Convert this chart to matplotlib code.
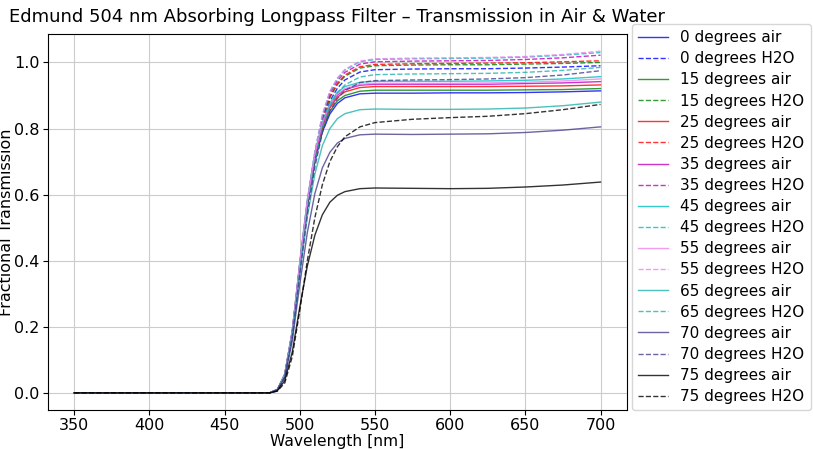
import matplotlib
matplotlib.use("Agg")
import matplotlib.pyplot as plt

# wavelength sample points [nm]
wavelength = [350, 480, 485, 490, 495, 500, 505, 510, 515, 520, 525, 530,
              540, 550, 575, 600, 625, 650, 675, 700]

angles = [0, 15, 25, 35, 45, 55, 65, 70, 75]
colors = ['blue', 'green', 'red', 'm', 'c', 'violet', 'lightseagreen',
          'darkslateblue', 'black']

# fractional transmission in air
air_0 = [0, 0, 0.009, 0.054, 0.182, 0.381, 0.563, 0.699, 0.790, 0.844, 0.876, 0.893,
         0.905, 0.907, 0.907, 0.908, 0.908, 0.909, 0.911, 0.914]
air_15 = [0, 0, 0.009, 0.055, 0.183, 0.385, 0.568, 0.705, 0.797, 0.852, 0.884, 0.900,
          0.913, 0.916, 0.916, 0.916, 0.916, 0.917, 0.918, 0.921]
air_25 = [0, 0, 0.009, 0.056, 0.185, 0.389, 0.575, 0.714, 0.806, 0.862, 0.895, 0.911,
          0.924, 0.927, 0.927, 0.927, 0.927, 0.928, 0.929, 0.932]
air_35 = [0, 0, 0.009, 0.056, 0.187, 0.392, 0.579, 0.719, 0.813, 0.869, 0.901, 0.918,
          0.931, 0.934, 0.934, 0.934, 0.934, 0.936, 0.938, 0.942]
air_45 = [0, 0, 0.009, 0.057, 0.189, 0.396, 0.585, 0.726, 0.820, 0.877, 0.910, 0.927,
          0.940, 0.943, 0.943, 0.943, 0.944, 0.946, 0.950, 0.957]
air_55 = [0, 0, 0.009, 0.056, 0.187, 0.394, 0.581, 0.721, 0.815, 0.871, 0.904, 0.921,
          0.934, 0.937, 0.937, 0.937, 0.938, 0.940, 0.944, 0.950]
air_65 = [0, 0, 0.009, 0.052, 0.172, 0.361, 0.533, 0.662, 0.748, 0.800, 0.830, 0.845,
          0.857, 0.859, 0.858, 0.858, 0.859, 0.862, 0.869, 0.880]
air_70 = [0, 0, 0.008, 0.047, 0.157, 0.329, 0.485, 0.603, 0.681, 0.728, 0.756, 0.770,
          0.781, 0.783, 0.782, 0.783, 0.784, 0.788, 0.795, 0.805]
air_75 = [0, 0, 0.006, 0.037, 0.124, 0.260, 0.384, 0.477, 0.539, 0.577, 0.598, 0.609,
          0.618, 0.620, 0.619, 0.618, 0.619, 0.623, 0.629, 0.638]

# fractional transmission in water
h2o_0 = [0, 0, 0.010, 0.049, 0.177, 0.373, 0.559, 0.706, 0.814, 0.883, 0.922, 0.947,
         0.971, 0.978, 0.980, 0.981, 0.981, 0.983, 0.986, 0.990]
h2o_15 = [0, 0, 0.010, 0.050, 0.179, 0.377, 0.566, 0.715, 0.824, 0.894, 0.933, 0.958,
          0.983, 0.990, 0.992, 0.993, 0.993, 0.995, 0.997, 1.000]
h2o_25 = [0, 0, 0.010, 0.050, 0.179, 0.379, 0.568, 0.718, 0.828, 0.897, 0.937, 0.962,
          0.987, 0.994, 0.996, 0.997, 0.998, 0.999, 1.002, 1.005]
h2o_35 = [0, 0, 0.010, 0.050, 0.181, 0.382, 0.573, 0.724, 0.834, 0.905, 0.945, 0.970,
          0.995, 1.002, 1.004, 1.005, 1.006, 1.009, 1.014, 1.022]
h2o_45 = [0, 0, 0.010, 0.051, 0.182, 0.385, 0.577, 0.729, 0.840, 0.911, 0.951, 0.977,
          1.002, 1.009, 1.011, 1.012, 1.013, 1.016, 1.022, 1.030]
h2o_55 = [0, 0, 0.010, 0.051, 0.183, 0.385, 0.578, 0.730, 0.842, 0.913, 0.953, 0.979,
          1.004, 1.011, 1.013, 1.014, 1.015, 1.018, 1.024, 1.034]
h2o_65 = [0, 0, 0.010, 0.048, 0.174, 0.367, 0.551, 0.696, 0.802, 0.869, 0.908, 0.932,
          0.956, 0.963, 0.965, 0.966, 0.967, 0.970, 0.976, 0.985]
h2o_70 = [0, 0, 0.009, 0.047, 0.171, 0.360, 0.540, 0.683, 0.787, 0.853, 0.891, 0.915,
          0.939, 0.945, 0.947, 0.948, 0.950, 0.954, 0.962, 0.975]
h2o_75 = [0, 0, 0.005, 0.030, 0.110, 0.250, 0.400, 0.530, 0.630, 0.700, 0.745, 0.775,
          0.805, 0.818, 0.828, 0.833, 0.837, 0.845, 0.857, 0.873]

air = [air_0, air_15, air_25, air_35, air_45, air_55, air_65, air_70, air_75]
h2o = [h2o_0, h2o_15, h2o_25, h2o_35, h2o_45, h2o_55, h2o_65, h2o_70, h2o_75]

plt.rcParams['font.size'] = 11

fig = plt.figure(figsize=(8.13, 4.49), dpi=100)
ax = fig.add_axes([0.059, 0.087, 0.712, 0.837])

for ang, col, t_air, t_h2o in zip(angles, colors, air, h2o):
    ax.plot(wavelength, t_air, color=col, lw=1.0, alpha=0.8, label=f'{ang} degrees air')
    ax.plot(wavelength, t_h2o, color=col, lw=1.0, alpha=0.8, ls='--', label=f'{ang} degrees H2O')

ax.tick_params(labelsize=11.5, pad=2.5)
ax.set_xlabel('Wavelength [nm]', fontsize=11.2, labelpad=0.5)
ax.set_ylabel('Fractional Transmission', fontsize=11.5, labelpad=0)
ax.set_title('Edmund 504 nm Absorbing Longpass Filter \u2013 Transmission in Air & Water',
             fontsize=13, pad=9)
ax.grid(True, color='#cccccc', lw=0.8)
ax.legend(loc='center left', bbox_to_anchor=(0.995, 0.513), fontsize=11, labelspacing=0.4)

fig.savefig('out.png', dpi=100)
